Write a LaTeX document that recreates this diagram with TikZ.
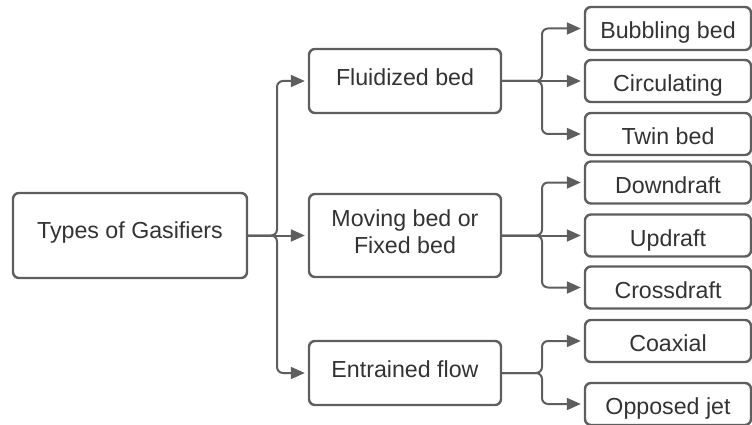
\documentclass[tikz,border=0pt]{standalone}
\usepackage{fontspec}
\setmainfont{Liberation Sans}
\usetikzlibrary{arrows.meta}
\definecolor{edge}{HTML}{5E5E5E}
\definecolor{ink}{HTML}{333333}
\begin{document}
\begin{tikzpicture}[x=1pt,y=-1pt,
  box/.style={draw=edge, line width=2.4pt, rounded corners=6pt, fill=white,
    text=ink, align=center, inner sep=0pt, text depth=0pt,
    font=\fontsize{23.2}{27}\selectfont},
  midbox/.style={box, minimum width=192pt, text height=9pt},
  leafbox/.style={box, minimum width=166pt, minimum height=42pt, text height=21pt},
  conn/.style={draw=edge, line width=2pt, rounded corners=6pt,
    -{Triangle[length=14pt,width=12pt]}, shorten >=3pt}]
\useasboundingbox (0,0) rectangle (752,425);

% root
\node[box, minimum width=234pt, minimum height=85pt, text height=6pt] (root) at (130,235.5) {Types of Gasifiers};

% middle column
\node[midbox, minimum height=64pt] (fluid) at (405,81) {Fluidized bed};
\node[midbox, minimum height=83pt, text height=35pt] (moving) at (405,235.5)
  {\begin{tabular}[b]{@{}c@{}}Moving bed or\\Fixed bed\end{tabular}};
\node[midbox, minimum height=64pt] (entr) at (405,373) {Entrained flow};

% leaves
\node[leafbox, minimum height=43pt] (bub) at (668,28.5) {Bubbling bed};
\node[leafbox] (circ) at (668,81) {Circulating};
\node[leafbox] (twin) at (668,134) {Twin bed};
\node[leafbox] (down) at (668,182.5) {Downdraft};
\node[leafbox] (up) at (668,235.5) {Updraft};
\node[leafbox] (cross) at (668,287.5) {Crossdraft};
\node[leafbox] (coax) at (668,341) {Coaxial};
\node[leafbox] (opp) at (668,404) {Opposed jet};

% branching points
\coordinate (j0) at (277,235.5);
\coordinate (j1) at (542,81);
\coordinate (j2) at (542,235.5);
\coordinate (j3) at (542,373);

% root to middle column
\draw[conn] (root.east) -- (j0) |- (fluid.west);
\draw[conn] (root.east) -- (moving.west);
\draw[conn] (root.east) -- (j0) |- (entr.west);

% fluidized bed
\draw[conn] (fluid.east) -- (j1) |- (bub.west);
\draw[conn] (fluid.east) -- (circ.west);
\draw[conn] (fluid.east) -- (j1) |- (twin.west);

% moving / fixed bed
\draw[conn] (moving.east) -- (j2) |- (down.west);
\draw[conn] (moving.east) -- (up.west);
\draw[conn] (moving.east) -- (j2) |- (cross.west);

% entrained flow
\draw[conn] (entr.east) -- (j3) |- (coax.west);
\draw[conn] (entr.east) -- (j3) |- (opp.west);
\end{tikzpicture}
\end{document}
